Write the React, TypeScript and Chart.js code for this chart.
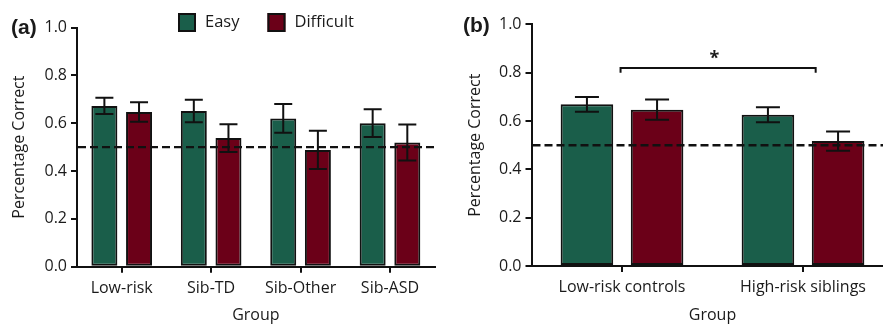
import React, { useEffect, useRef } from 'react';
import { Chart, registerables } from 'chart.js';

Chart.register(...registerables);

// ---------- data ----------
const seriesNames = ['Easy', 'Difficult'];

const groupsA = ['Low-risk', 'Sib-TD', 'Sib-Other', 'Sib-ASD'];
const easyA = [0.672, 0.651, 0.62, 0.6];
const easyErrA = [0.034, 0.047, 0.06, 0.058];
const difficultA = [0.647, 0.538, 0.488, 0.519];
const difficultErrA = [0.041, 0.058, 0.08, 0.075];

const groupsB = ['Low-risk controls', 'High-risk siblings'];
const easyB = [0.669, 0.626];
const easyErrB = [0.031, 0.031];
const difficultB = [0.647, 0.517];
const difficultErrB = [0.042, 0.04];

const yTicks = [0, 0.2, 0.4, 0.6, 0.8, 1.0];
const chanceLevel = 0.5;
const significanceMark = '*';
const bracketLevel = 0.82;
const bracketFoot = 0.8;
const starLevel = 0.877;
const bracketSpan = [-0.008, 1.07]; // in category units

// ---------- style ----------
const FONT = "'Open Sans', sans-serif";
const INK = '#1a1a1a';
const LINE = '#111111';
const GREEN = '#1a5e4a';
const RED = '#6b0018';
const H = 324;

function extrasPlugin(opts: any) {
  return {
    id: 'extras-' + opts.tag,
    afterDatasetsDraw(chart: any) {
      const { ctx, chartArea } = chart;
      const ys = chart.scales.y;
      const xs = chart.scales.x;
      // chance line
      ctx.save();
      ctx.strokeStyle = LINE;
      ctx.lineWidth = 2.4;
      ctx.setLineDash([8, 4]);
      const yc = ys.getPixelForValue(chanceLevel);
      ctx.beginPath();
      ctx.moveTo(chartArea.left + 1, yc);
      ctx.lineTo(chartArea.right, yc);
      ctx.stroke();
      ctx.restore();
      // error bars
      ctx.save();
      ctx.strokeStyle = LINE;
      ctx.lineWidth = 2;
      chart.data.datasets.forEach((ds: any, i: number) => {
        const meta = chart.getDatasetMeta(i);
        meta.data.forEach((bar: any, j: number) => {
          const v = ds.data[j];
          const e = ds.errors[j];
          const x = bar.x;
          const yt = ys.getPixelForValue(v + e);
          const yb = ys.getPixelForValue(v - e);
          const hw = opts.cap / 2;
          ctx.beginPath();
          ctx.moveTo(x, yt);
          ctx.lineTo(x, yb);
          ctx.moveTo(x - hw, yt);
          ctx.lineTo(x + hw, yt);
          ctx.moveTo(x - hw, yb);
          ctx.lineTo(x + hw, yb);
          ctx.stroke();
        });
      });
      ctx.restore();
      // significance bracket
      if (opts.bracket) {
        const x0 = xs.getPixelForValue(0);
        const x1 = xs.getPixelForValue(1);
        const l = x0 + bracketSpan[0] * (x1 - x0);
        const r = x0 + bracketSpan[1] * (x1 - x0);
        const yb = ys.getPixelForValue(bracketLevel);
        const yf = ys.getPixelForValue(bracketFoot);
        ctx.save();
        ctx.strokeStyle = LINE;
        ctx.lineWidth = 2;
        ctx.beginPath();
        ctx.moveTo(l, yf);
        ctx.lineTo(l, yb);
        ctx.lineTo(r, yb);
        ctx.lineTo(r, yf);
        ctx.stroke();
        const fs = 18;
        ctx.fillStyle = INK;
        ctx.font = `bold ${fs}px ${FONT}`;
        ctx.textAlign = 'center';
        ctx.textBaseline = 'alphabetic';
        ctx.fillText(significanceMark, (x0 + x1) / 2 + 2, ys.getPixelForValue(starLevel) + 0.55 * fs);
        ctx.restore();
      }
    },
    afterDraw(chart: any) {
      const { ctx } = chart;
      ctx.save();
      // panel label
      ctx.fillStyle = INK;
      ctx.font = `bold 21px 'Liberation Sans', Arial, sans-serif`;
      ctx.textAlign = 'left';
      ctx.textBaseline = 'middle';
      ctx.fillText(opts.label, opts.labelX, opts.labelY);
      // legend
      if (opts.legend) {
        let x = opts.legend.x;
        const y = opts.legend.y;
        ctx.font = `16.5px ${FONT}`;
        chart.data.datasets.forEach((ds: any) => {
          ctx.fillStyle = ds.backgroundColor;
          ctx.fillRect(x, y, 18, 19);
          ctx.strokeStyle = LINE;
          ctx.lineWidth = 2;
          ctx.strokeRect(x + 1, y + 1, 16, 17);
          ctx.fillStyle = INK;
          ctx.textBaseline = 'middle';
          ctx.fillText(ds.label, x + 27, y + 9.5);
          x += 27 + ctx.measureText(ds.label).width + 28;
        });
      }
      ctx.restore();
    },
  };
}

function makeConfig(p: any) {
  return {
    type: 'bar',
    data: {
      labels: p.labels,
      datasets: [
        {
          label: seriesNames[0],
          data: p.easy,
          errors: p.easyErr,
          backgroundColor: GREEN,
          borderColor: LINE,
          borderWidth: 2,
          borderSkipped: false,
          categoryPercentage: 0.775,
          barPercentage: 0.75,
        },
        {
          label: seriesNames[1],
          data: p.difficult,
          errors: p.difficultErr,
          backgroundColor: RED,
          borderColor: LINE,
          borderWidth: 2,
          borderSkipped: false,
          categoryPercentage: 0.775,
          barPercentage: 0.75,
        },
      ],
    },
    options: {
      responsive: false,
      animation: false,
      devicePixelRatio: 1,
      layout: { padding: { top: p.top, right: p.right, left: 0, bottom: 0 } },
      plugins: { legend: { display: false }, tooltip: { enabled: false } },
      scales: {
        x: {
          type: 'category',
          grid: { display: true, offset: false, drawOnChartArea: false, drawTicks: true, tickLength: 6, color: LINE, lineWidth: 2 },
          border: { display: true, color: LINE, width: 2 },
          ticks: { color: INK, font: { family: FONT, size: 16 }, padding: 6, maxRotation: 0, autoSkip: false },
          title: { display: true, text: 'Group', color: INK, font: { family: FONT, size: 16 }, padding: { top: 0, bottom: -1 } },
          afterFit: (s: any) => {
            s.height = H - p.bottom;
          },
        },
        y: {
          min: 0,
          max: 1,
          afterBuildTicks: (s: any) => {
            s.ticks = yTicks.map((v) => ({ value: v }));
          },
          grid: { display: true, drawOnChartArea: false, drawTicks: true, tickLength: 6, color: LINE, lineWidth: 2 },
          border: { display: true, color: LINE, width: 2 },
          ticks: { color: INK, font: { family: FONT, size: 16 }, padding: 4, callback: (v: any) => Number(v).toFixed(1) },
          title: { display: true, text: 'Percentage Correct', color: INK, font: { family: FONT, size: 16 }, padding: { top: p.yTitlePad, bottom: 0 } },
          afterFit: (s: any) => {
            s.width = p.left;
          },
        },
      },
    },
    plugins: [extrasPlugin(p.extras)],
  };
}

export default function App() {
  const refA = useRef<HTMLCanvasElement>(null);
  const refB = useRef<HTMLCanvasElement>(null);

  useEffect(() => {
    const a = new Chart(
      refA.current as any,
      makeConfig({
        labels: groupsA,
        easy: easyA,
        easyErr: easyErrA,
        difficult: difficultA,
        difficultErr: difficultErrA,
        top: 27.5,
        bottom: 266.7,
        left: 77,
        right: 440 - 434.7,
        yTitlePad: 10,
        extras: { tag: 'a', cap: 18, label: '(a)', labelX: 11, labelY: 28, legend: { x: 178, y: 13 } },
      }) as any
    );
    const b = new Chart(
      refB.current as any,
      makeConfig({
        labels: groupsB,
        easy: easyB,
        easyErr: easyErrB,
        difficult: difficultB,
        difficultErr: difficultErrB,
        top: 24.4,
        bottom: 266,
        left: 91.5,
        right: 460 - 453.5,
        yTitlePad: 25.4,
        extras: { tag: 'b', cap: 24, label: '(b)', labelX: 23, labelY: 26, bracket: true },
      }) as any
    );
    return () => {
      a.destroy();
      b.destroy();
    };
  }, []);

  return (
    <div
      style={{
        position: 'fixed',
        left: 0,
        top: 0,
        width: 883,
        height: H,
        overflow: 'hidden',
        background: '#ffffff',
      }}
    >
      <canvas ref={refA} width={440} height={H} style={{ position: 'absolute', left: 0, top: 0, width: 440, height: H }} />
      <canvas ref={refB} width={460} height={H} style={{ position: 'absolute', left: 440, top: 0, width: 460, height: H }} />
    </div>
  );
}
